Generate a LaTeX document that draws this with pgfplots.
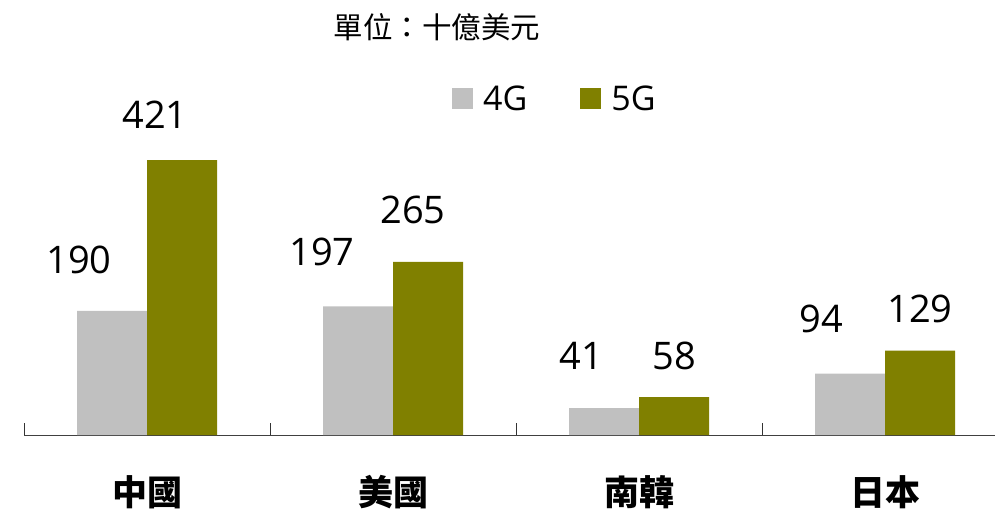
\documentclass[border=0pt]{standalone}
\usepackage{pgfplots}
\usepackage{pgfplotstable}
\pgfplotsset{compat=1.18}
\usepackage{fontspec}
\setmainfont{Open Sans}
\newfontfamily\cjk{Noto Sans CJK TC}
\definecolor{gfour}{HTML}{C0C0C0}
\definecolor{gfive}{HTML}{808000}
\pgfplotstableread{
x y dx dy
0 190 -33 37
1 197 -36 41
2 41 -23 39
3 94 -29 41
}\fourg
\pgfplotstableread{
x y dx dy
0 421 -27 32
1 265 -15 38
2 58 0 28
3 129 0 28
}\fiveg
\begin{document}
\begin{tikzpicture}
\path[use as bounding box] (0,0) rectangle (995pt,509pt);
\node[anchor=base west, inner sep=0pt] at (333.5pt,470.5pt) {\cjk\fontsize{29.5}{32}\selectfont 單位：十億美元};
\begin{axis}[
  at={(24pt,74pt)}, anchor=south west,
  scale only axis, width=971pt, height=435pt,
  xmin=-0.5, xmax=3.447, ymin=0, ymax=666,
  clip=false,
  hide y axis,
  axis x line*=bottom,
  axis line style={-, draw=black!75, line width=1pt},
  xtick={0,1,2,3},
  xticklabels={中國,美國,南韓,日本},
  major tick length=0pt,
  minor xtick={-0.5,0.5,1.5,2.5,3.5},
  minor tick length=-12pt,
  xtick align=inside,
  tick style={draw=black!80, line width=1pt},
  xticklabel style={anchor=base, inner sep=0pt, yshift=-70.5pt, font=\cjk\bfseries\fontsize{35}{38}\selectfont},
  ybar=0pt, bar width=70pt,
  legend columns=2,
  legend style={at={(axis description cs:0.4408,0.807)}, anchor=north west, draw=none, fill=none,
    inner sep=0pt, font=\fontsize{34}{36}\selectfont, column sep=8pt,
    /tikz/every even column/.append style={column sep=51pt}},
  legend image code/.code={\fill[#1] (0pt,-10pt) rectangle (21pt,11pt);},
  nodes near coords={\fontsize{38}{40}\selectfont\pgfmathprintnumber[assume math mode=true]{\pgfplotspointmeta}},
]
\addplot[fill=gfour, draw=none,
  visualization depends on={\thisrow{dx}\as\dx},
  visualization depends on={\thisrow{dy}\as\dy},
  every node near coord/.append style={anchor=base, inner sep=0pt, xshift=\dx pt, yshift=\dy pt, text=black}]
  table[x=x, y=y] {\fourg};
\addplot[fill=gfive, draw=none,
  visualization depends on={\thisrow{dx}\as\dx},
  visualization depends on={\thisrow{dy}\as\dy},
  every node near coord/.append style={anchor=base, inner sep=0pt, xshift=\dx pt, yshift=\dy pt, text=black}]
  table[x=x, y=y] {\fiveg};
\legend{4G,5G}
\end{axis}
\end{tikzpicture}
\end{document}
